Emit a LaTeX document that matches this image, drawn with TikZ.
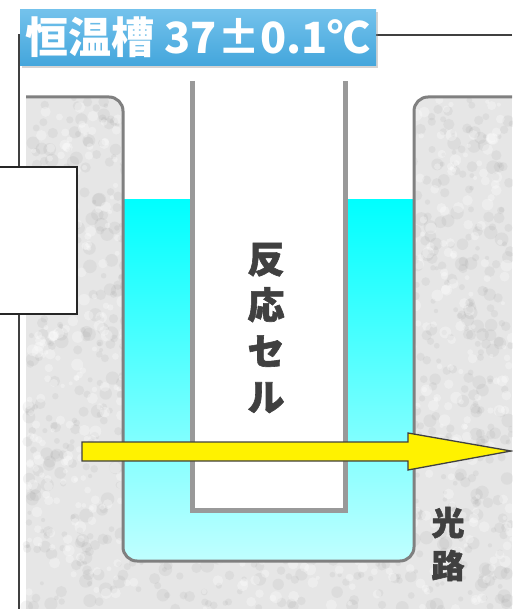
\documentclass[tikz,border=0pt]{standalone}
\usepackage{fontspec}
\newfontfamily\jp{Noto Sans CJK JP}
\newfontfamily\jpheavy{Noto Sans CJK JP}[BoldFeatures={FakeBold=1.6}]
\usetikzlibrary{shadows}
\definecolor{frameline}{HTML}{404040}
\definecolor{wellline}{HTML}{808080}
\definecolor{cellline}{HTML}{999999}
\definecolor{stone}{HTML}{E6E6E6}
\definecolor{titletop}{HTML}{74C2EC}
\definecolor{titlebot}{HTML}{44A6DC}
\definecolor{labelink}{HTML}{404040}
\tikzset{
  framestyle/.style={draw=frameline, line width=1.6pt},
  wellstroke/.style={draw=wellline, line width=3pt, rounded corners=14pt},
  cellstroke/.style={draw=cellline, line width=5pt},
  titlebox/.style={top color=titletop, bottom color=titlebot, draw=none,
    minimum width=356pt, minimum height=56pt, inner sep=0pt,
    drop shadow={opacity=0.35, shadow xshift=2pt, shadow yshift=-3pt},
    font=\jp\bfseries\fontsize{43}{43}\selectfont, text=white},
  vlabel/.style={font=\jpheavy\bfseries\fontsize{37}{46}\selectfont, text=labelink,
    align=center, inner sep=0pt},
  beam/.style={fill=yellow, draw=frameline, line width=1.3pt, line join=miter},
  sidebox/.style={draw=black!85, line width=2pt, fill=white}
}
\begin{document}
\begin{tikzpicture}[x=1pt, y=-1pt]
\useasboundingbox (0,0) rectangle (512,609);
% thermostat frame
\draw[framestyle] (512,35) -- (19,35) -- (19,609);
% insulating block with the well cut out
\begin{scope}
  \clip[rounded corners=14pt] (0,97) -- (123,97) -- (123,561) -- (414,561) -- (414,97)
    -- (560,97) -- (560,660) -- (0,660) -- cycle;
  \fill[stone] (26,97) rectangle (512,609);
  \pgfmathsetseed{11}
  \foreach \i in {1,...,1400} {
    \pgfmathsetmacro{\px}{26+486*rnd}
    \pgfmathsetmacro{\py}{97+512*rnd}
    \pgfmathsetmacro{\pr}{2+5*rnd}
    \fill[black!45!white, opacity=0.10] (\px,\py) circle[radius=\pr];
  }
  \foreach \i in {1,...,900} {
    \pgfmathsetmacro{\px}{26+486*rnd}
    \pgfmathsetmacro{\py}{97+512*rnd}
    \pgfmathsetmacro{\pr}{2+4*rnd}
    \fill[white, opacity=0.30] (\px,\py) circle[radius=\pr];
  }
\end{scope}
% bath liquid
\begin{scope}
  \clip[rounded corners=14pt] (123,40) -- (123,561) -- (414,561) -- (414,40);
  \shade[top color=cyan, bottom color={rgb,255:red,192;green,255;blue,255}] (123,200) rectangle (414,561);
\end{scope}
\draw[wellstroke] (26,97) -- (123,97) -- (123,561) -- (414,561) -- (414,97) -- (512,97);
% reaction cell
\fill[white] (192,81) rectangle (345,510);
\draw[cellstroke] (192,81) -- (192,510) -- (345,510) -- (345,81);
\node[vlabel] (cell) at (266,328) {反\\応\\セ\\ル};
% light path
\draw[beam] (82,442) -- (408,442) -- (408,433) -- (511,451) -- (408,470) -- (408,461) -- (82,461) -- cycle;
\node[vlabel, font=\jpheavy\bfseries\fontsize{33}{43}\selectfont] (path) at (448,544) {光\\路};
% side box
\node[sidebox, minimum width=80pt, minimum height=147pt, anchor=north east] (side) at (78,166) {};
% title
\node[titlebox, anchor=north west] (title) at (20,9) {恒温槽 37±0.1℃};
\end{tikzpicture}
\end{document}
